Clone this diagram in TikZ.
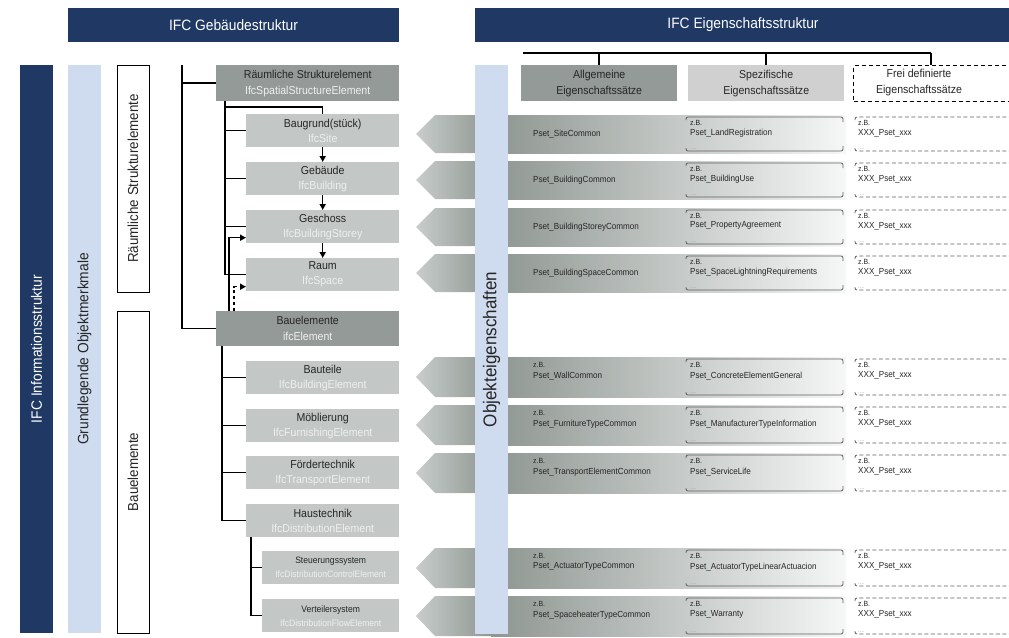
\documentclass[tikz,border=0pt]{standalone}
\usepackage{fontspec}
\setmainfont{Liberation Sans}[FakeStretch=0.92]
\usetikzlibrary{arrows.meta}

\definecolor{navy}{HTML}{1F3864}
\definecolor{paleblue}{HTML}{CFDBEF}
\definecolor{darkbox}{HTML}{939A97}
\definecolor{lightbox}{HTML}{C3C8C7}
\definecolor{spezbox}{HTML}{D0D0D0}
\definecolor{subtxt}{HTML}{EEF0F0}
\definecolor{ink}{HTML}{262626}
\definecolor{arrlight}{HTML}{C8CDCB}
\definecolor{arrdark}{HTML}{8E9691}
\definecolor{rowend}{HTML}{F6F7F7}
\definecolor{brkline}{HTML}{606060}
\definecolor{dotgray}{HTML}{A0A0A0}

% one property-set row: arrow band, specific bracket box, free dashed box
% #1 id, #2 top, #3 height, #4 specific pset name
\newcommand\psrow[4]{%
  \pgfmathsetmacro\rowT{#2}%
  \pgfmathsetmacro\rowB{#2+#3}%
  \pgfmathsetmacro\rowM{#2+#3/2}%
  \shade[left color=arrlight,right color=arrdark]
    (416,\rowM) -- (435,\rowT) -- (492,\rowT) -- (492,\rowB) -- (435,\rowB) -- cycle;
  \shade[left color=arrdark,right color=rowend] (491,\rowT) rectangle (846,\rowB);
  \draw[brk] (686,\rowT+5) |- (843,\rowT+2) -- (843,\rowT+7);
  \draw[brk] (686,\rowB-5) |- (843,\rowB-2) -- (843,\rowB-7);
  \node[zb]   (s#1a) at (690,\rowT+0.21*#3) {z.B.};
  \node[pset] (s#1b) at (690,\rowT+0.47*#3) {#4};
  \node[more] (s#1c) at (690,\rowB-4) {....};
  \draw[brk,fbox] (855,\rowT+5) |- (1012,\rowT+2);
  \draw[brk,fbox] (855,\rowB-5) |- (1012,\rowB-2);
  \node[zb]   (f#1a) at (858,\rowT+0.21*#3) {z.B.};
  \node[pset] (f#1b) at (858,\rowT+0.47*#3) {XXX\_Pset\_xxx};
  \node[more] (f#1c) at (858,\rowB-4) {....};
}
% row with a single general pset
\newcommand\psrowA[5]{%
  \psrow{#1}{#2}{#3}{#5}%
  \node[pset] (g#1) at (533,#2+#3/2) {#4};
}
% row with an example general pset
\newcommand\psrowB[5]{%
  \psrow{#1}{#2}{#3}{#5}%
  \node[zb]   (g#1a) at (533,#2+0.21*#3) {z.B.};
  \node[pset] (g#1b) at (533,#2+0.47*#3) {#4};
  \node[more] (g#1c) at (533,#2+#3-4) {....};
}

\begin{document}
\begin{tikzpicture}[x=1pt,y=-1pt,
  hdr/.style={fill=navy,text=white,inner sep=0,minimum height=34,font=\fontsize{15}{18}\selectfont},
  vband/.style={rotate=90,inner sep=0,minimum height=33,font=\fontsize{15}{18}\selectfont},
  grp/.style={rotate=90,inner sep=0,draw=black,line width=1pt,fill=white,minimum height=32,text=ink,font=\fontsize{14.5}{17}\selectfont},
  mainbox/.style={anchor=north west,inner sep=0,fill=darkbox,minimum width=183,minimum height=36,align=center,text=ink,font=\fontsize{11.5}{16}\selectfont},
  subbox/.style={anchor=north west,inner sep=0,fill=lightbox,minimum width=153,minimum height=33,align=center,text=ink,font=\fontsize{11.5}{15}\selectfont},
  minibox/.style={subbox,minimum width=137,font=\fontsize{9.3}{14}\selectfont},
  tline/.style={line width=1.5pt,draw=black},
  tarr/.style={tline,-{Triangle[length=6pt,width=6pt]}},
  colhead/.style={anchor=north west,inner sep=0,minimum width=156,minimum height=36,align=center,text=ink,font=\fontsize{11.5}{16}\selectfont},
  zb/.style={anchor=west,inner sep=0,text=ink,font=\fontsize{7.5}{8}\selectfont},
  pset/.style={anchor=west,inner sep=0,text=ink,font=\fontsize{8.8}{10}\selectfont},
  more/.style={anchor=west,inner sep=0,text=dotgray,font=\fontsize{6}{7}\selectfont},
  brk/.style={draw=brkline,line width=0.8pt,rounded corners=2pt},
  fbox/.style={dash pattern=on 4pt off 2.5pt},
]
\useasboundingbox (0,0) rectangle (1009,637);
\fill[white] (0,0) rectangle (1009,637);
\clip (0,0) rectangle (1009,637);

% ---------- headers ----------
\node[hdr,minimum width=331] (hbuild) at (233.5,25) {IFC Gebäudestruktur};
\node[hdr,minimum width=536] (hprop) at (743,25) {IFC Eigenschaftsstruktur};

% ---------- left bands ----------
\node[vband,fill=navy,text=white,minimum width=568] (info) at (36.5,349) {IFC Informationsstruktur};
\node[vband,fill=paleblue,text=ink,minimum width=568] (basic) at (84.5,349) {Grundlegende Objektmerkmale};
\node[grp,minimum width=227] (grpA) at (133,178.5) {Räumliche Strukturelemente};
\node[grp,minimum width=322] (grpB) at (133,472) {Bauelemente};

% ---------- building structure tree ----------
\node[mainbox] (rse) at (216,65) {Räumliche Strukturelement\\\textcolor{subtxt}{IfcSpatialStructureElement}};
\node[subbox] (site)   at (246,114) {Baugrund(stück)\\\textcolor{subtxt}{IfcSite}};
\node[subbox] (bldg)   at (246,162) {Gebäude\\\textcolor{subtxt}{IfcBuilding}};
\node[subbox] (storey) at (246,210) {Geschoss\\\textcolor{subtxt}{IfcBuildingStorey}};
\node[subbox] (space)  at (246,258) {Raum\\\textcolor{subtxt}{IfcSpace}};
\node[mainbox,minimum height=35] (elem) at (216,311) {Bauelemente\\\textcolor{subtxt}{ifcElement}};
\node[subbox] (bt)   at (246,361) {Bauteile\\\textcolor{subtxt}{IfcBuildingElement}};
\node[subbox] (mob)  at (246,409) {Möblierung\\\textcolor{subtxt}{IfcFurnishingElement}};
\node[subbox] (ford) at (246,456) {Fördertechnik\\\textcolor{subtxt}{IfcTransportElement}};
\node[subbox] (haus) at (246,504) {Haustechnik\\\textcolor{subtxt}{IfcDistributionElement}};
\node[minibox] (steu) at (262,551) {Steuerungssystem\\\textcolor{subtxt}{IfcDistributionControlElement}};
\node[minibox] (vert) at (262,599) {Verteilersystem\\\textcolor{subtxt}{IfcDistributionFlowElement}};

\coordinate (trunk) at (182,65);
\draw[tline] (trunk) |- (rse.west);
\draw[tline] (trunk) |- (elem.west);

\coordinate (sptrunk) at (225,101);
\foreach \n in {site,bldg,storey,space} \draw[tline] (sptrunk) |- (\n.west);
\draw[tline] (sptrunk) ++(0,6) -| (site.north);
\draw[tarr] (site) -- (bldg);
\draw[tarr] (bldg) -- (storey);
\draw[tarr] (storey) -- (space);
\draw[tarr] ([xshift=13pt]elem.north west) |- ([yshift=-11pt]storey.west);
\draw[tarr,dash pattern=on 3.5pt off 2.5pt] ([xshift=18pt]elem.north west) |- ([yshift=-12pt]space.west);

\coordinate (eltrunk) at ([xshift=6pt]elem.south west);
\foreach \n in {bt,mob,ford,haus} \draw[tline] (eltrunk) |- (\n.west);
\coordinate (htrunk) at ([xshift=5pt]haus.south west);
\draw[tline] (htrunk) |- (steu.west);
\draw[tline] (htrunk) |- (vert.west);

% ---------- property set rows ----------
\psrowA{1}{115}{38}{Pset\_SiteCommon}{Pset\_LandRegistration}
\psrowA{2}{161}{38}{Pset\_BuildingCommon}{Pset\_BuildingUse}
\psrowA{3}{208}{38}{Pset\_BuildingStoreyCommon}{Pset\_PropertyAgreement}
\psrowA{4}{254}{38}{Pset\_BuildingSpaceCommon}{Pset\_SpaceLightningRequirements}
\psrowB{5}{357}{40}{Pset\_WallCommon}{Pset\_ConcreteElementGeneral}
\psrowB{6}{405}{40}{Pset\_FurnitureTypeCommon}{Pset\_ManufacturerTypeInformation}
\psrowB{7}{453}{40}{Pset\_TransportElementCommon}{Pset\_ServiceLife}
\psrowB{8}{548}{40}{Pset\_ActuatorTypeCommon}{Pset\_ActuatorTypeLinearActuacion}
\psrowB{9}{596}{40}{Pset\_SpaceheaterTypeCommon}{Pset\_Warranty}

% ---------- property structure ----------
\node[vband,fill=paleblue,text=ink,minimum width=569,font=\fontsize{18.5}{20}\selectfont] (obj) at (491.5,349.5) {Objekteigenschaften};

\node[colhead,fill=darkbox] (allg) at (521,65) {Allgemeine\\Eigenschaftssätze};
\node[colhead,fill=spezbox] (spez) at (688,65) {Spezifische\\Eigenschaftssätze};
\node[colhead,minimum width=170,draw=black,line width=1pt,dash pattern=on 4pt off 3pt] (frei) at (853,65) {};
\node[align=center,inner sep=0,text=ink,font=\fontsize{11.5}{16}\selectfont] (freitxt) at (919,83) {Frei definierte\\Eigenschaftssätze};

\coordinate (cl) at (523,53);
\coordinate (cr) at (931,53);
\draw[tline] (cl) -- (cr);
\draw[tline] (allg.north |- cl) -- (allg.north);
\draw[tline] (spez.north |- cl) -- (spez.north);
\draw[tline] (cr) -- (cr |- frei.north);
\end{tikzpicture}
\end{document}
